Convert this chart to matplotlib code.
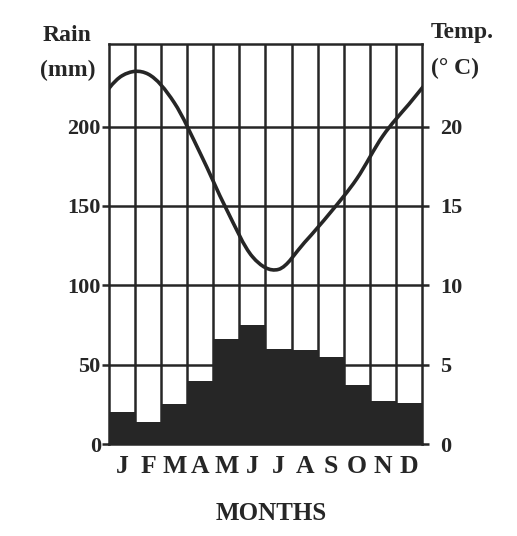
import matplotlib.pyplot as plt
import numpy as np
from matplotlib.path import Path
from matplotlib.patches import PathPatch

months = ["J", "F", "M", "A", "M", "J", "J", "A", "S", "O", "N", "D"]
rain = [20, 14, 25, 40, 66, 75, 60, 59, 55, 37, 27, 26]
temp = [23.2, 23.3, 21.5, 18.3, 14.8, 11.8, 11.0, 12.7, 14.6, 16.7, 19.4, 21.4]
rain_ticks = [0, 50, 100, 150, 200]
temp_ticks = [0, 5, 10, 15, 20]

plt.rcParams["font.family"] = "Liberation Serif"
plt.rcParams["font.weight"] = "bold"
ink = "#262626"

fig = plt.figure(figsize=(5.17, 5.36), dpi=100)
ax = fig.add_axes([0.211, 0.1716, 0.605, 0.7464])
x = np.arange(len(months))

ax.bar(x + 0.5, rain, width=1.0, color=ink, linewidth=0, zorder=1)
ax.set_xlim(0, 12)
ax.set_ylim(0, 252)

# grid: month columns and 50 mm rows
for b in range(1, 12):
    ax.axvline(b, color=ink, lw=1.8, zorder=2)
for t in rain_ticks[1:]:
    ax.axhline(t, color=ink, lw=1.8, zorder=2)

ax.set_yticks(rain_ticks)
ax.set_yticklabels([str(t) for t in rain_ticks], fontsize=16, fontweight="bold", color=ink)
ax.set_xticks(x + 0.5)
ax.set_xticklabels(months, fontsize=18.5, fontweight="bold", color=ink)
ax.tick_params(axis="x", length=0, pad=8)
ax.tick_params(axis="y", length=5, width=1.8, color=ink, pad=1)
for s in ax.spines.values():
    s.set_color(ink)
    s.set_linewidth(1.8)

ax2 = ax.twinx()
ax2.set_ylim(0, 25.2)
ax2.set_yticks(temp_ticks)
ax2.set_yticklabels([str(t) for t in temp_ticks], fontsize=16, fontweight="bold", color=ink)
ax2.tick_params(axis="y", length=5, width=1.8, color=ink, pad=8)
for s in ax2.spines.values():
    s.set_visible(False)

# temperature curve, cyclic year, smooth bezier through monthly points
px = np.concatenate([[-1.5, -0.5], x + 0.5, [12.5, 13.5]])
py = np.concatenate([temp[-2:], temp, temp[:2]])
verts = [(px[1], py[1])]
codes = [Path.MOVETO]
for i in range(1, len(px) - 2):
    p0 = np.array([px[i - 1], py[i - 1]])
    p1 = np.array([px[i], py[i]])
    p2 = np.array([px[i + 1], py[i + 1]])
    p3 = np.array([px[i + 2], py[i + 2]])
    c1 = p1 + (p2 - p0) / 6
    c2 = p2 - (p3 - p1) / 6
    verts += [tuple(c1), tuple(c2), tuple(p2)]
    codes += [Path.CURVE4] * 3
curve = PathPatch(Path(verts, codes), fill=False, edgecolor=ink, lw=2.6, zorder=3)
ax2.add_patch(curve)
curve.set_clip_path(ax2.patch)

fig.text(0.083, 0.915, "Rain", fontsize=17, fontweight="bold", color=ink, va="bottom")
fig.text(0.078, 0.848, "(mm)", fontsize=17, fontweight="bold", color=ink, va="bottom")
fig.text(0.834, 0.920, "Temp.", fontsize=17, fontweight="bold", color=ink, va="bottom")
fig.text(0.834, 0.852, "(° C)", fontsize=17, fontweight="bold", color=ink, va="bottom")
fig.text(0.524, 0.03, "MONTHS", fontsize=18, fontweight="bold", color=ink, ha="center")

fig.savefig("out.png", dpi=100, facecolor="white")
